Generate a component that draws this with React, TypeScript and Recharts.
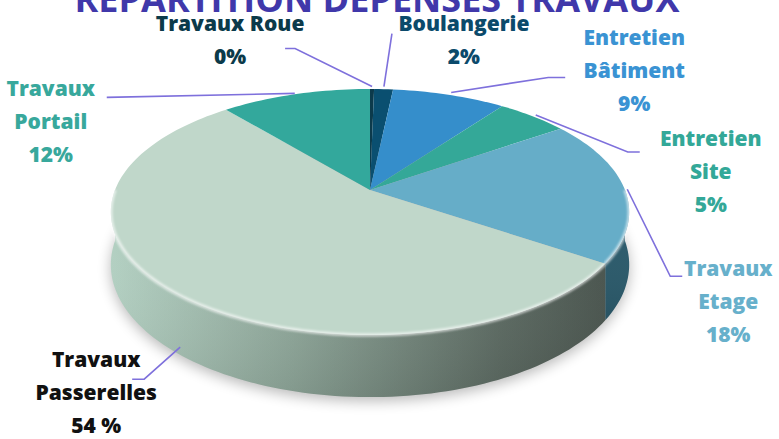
import React from 'react';
import { PieChart, Pie, Cell } from 'recharts';

// ---- data ----
const categories = [
  'Travaux Roue',
  'Boulangerie',
  'Entretien Bâtiment',
  'Entretien Site',
  'Travaux Etage',
  'Travaux Passerelles',
  'Travaux Portail',
];
const values = [0.3, 1.4, 8.4, 5.3, 19.0, 54.5, 11.1];
const labelNames = [
  ['Travaux Roue'],
  ['Boulangerie'],
  ['Entretien', 'Bâtiment'],
  ['Entretien', 'Site'],
  ['Travaux', 'Etage'],
  ['Travaux', 'Passerelles'],
  ['Travaux', 'Portail'],
];
const percentLabels = ['0%', '2%', '9%', '5%', '18%', '54 %', '12%'];
const title = 'RÉPARTITION DÉPENSES TRAVAUX';

// ---- styles ----
const TOP_COLORS = ['#0c3a4b', '#0a4f70', '#358ecb', '#34a898', '#66adc8', '#c0d7ca', '#33a89c'];
const SIDE_COLORS = ['#082a36', '#083a52', '#236a98', '#227a6e', '#2b5a6b', 'url(#passSide)', '#227a6e'];
const LABEL_COLORS = ['#0b3a4a', '#0b4a6b', '#3a93d3', '#33a898', '#67b0cb', '#111111', '#38a89c'];
const LEADER_COLOR = '#7e70dc';
const FONT = '"Open Sans", "Noto Sans", sans-serif';

// perspective projection of the 3D pie
const RX = 255;
const PERSP = 0.1789;
const KY = -119.07;
const DEPTH = 51;

function project(cx: number, cy: number, r: number, deg: number) {
  const t = (deg * Math.PI) / 180;
  const X = r * Math.cos(t);
  const Z = r * Math.sin(t);
  const d = 1 + PERSP * Z;
  return { x: cx + (RX * X) / d, y: cy + (KY * Z) / d, h: DEPTH / d };
}

// label layout: leader elbow offset from start, stub length, text offset from stub end
const LABEL_LAYOUT = [
  { r: 1.03, front: false, elbow: [-77, -38], stub: -10, text: [-55, -24] },
  { r: 1.03, front: false, elbow: [8, -53], stub: 0, text: [72, -10] },
  { r: 1.03, front: false, elbow: [97, -15], stub: 17, text: [69, -39] },
  { r: 1.02, front: false, elbow: [92, 37], stub: 12, text: [71, -13] },
  { r: 1.01, front: false, elbow: [43, 87], stub: 12, text: [46, -7] },
  { r: 0.97, front: true, elbow: [-36, 32], stub: -12, text: [-36, -19] },
  { r: 1.01, front: false, elbow: [-188, 4], stub: 0, text: [-56, -8] },
];

const data = categories.map((name, i) => ({ name, value: values[i] }));

function indexOf(props: any) {
  if (typeof props.index === 'number') return props.index;
  const n = props?.payload?.name ?? props.name;
  return Math.max(0, categories.indexOf(n));
}

const SliceShape = (props: any) => {
  const { cx, cy, startAngle, endAngle, fill } = props;
  const idx = indexOf(props);
  const a0 = Math.min(startAngle, endAngle);
  const a1 = Math.max(startAngle, endAngle);
  const steps = Math.max(2, Math.ceil((a1 - a0) / 1.5));
  const pts: string[] = [];
  for (let i = 0; i <= steps; i++) {
    const p = project(cx, cy, 1, a0 + ((a1 - a0) * i) / steps);
    pts.push(`${p.x.toFixed(2)},${p.y.toFixed(2)}`);
  }
  const topPath = `M${cx},${cy} L${pts.join(' L')} Z`;

  let side: React.ReactNode = null;
  let rim: React.ReactNode = null;
  const v0 = Math.max(a0, -180);
  const v1 = Math.min(a1, 0);
  if (v1 > v0) {
    const n = Math.max(2, Math.ceil((v1 - v0) / 1.5));
    const topArc: { x: number; y: number; h: number }[] = [];
    for (let i = 0; i <= n; i++) topArc.push(project(cx, cy, 1, v0 + ((v1 - v0) * i) / n));
    const up = topArc.map((p) => `${p.x.toFixed(2)},${p.y.toFixed(2)}`);
    const down = topArc
      .slice()
      .reverse()
      .map((p) => `${p.x.toFixed(2)},${(p.y + p.h).toFixed(2)}`);
    const sideD = `M${up.join(' L')} L${down.join(' L')} Z`;
    side = (
      <g>
        <path d={sideD} fill={SIDE_COLORS[idx]} />
        <path d={sideD} fill="url(#sideShade)" />
      </g>
    );
    rim = (
      <path
        d={`M${up.join(' L')}`}
        fill="none"
        stroke="#ffffff"
        strokeOpacity={0.6}
        strokeWidth={3.5}
        filter="url(#soft)"
      />
    );
  }

  let shadow: React.ReactNode = null;
  if (a1 >= 89.99) {
    const n = 120;
    const sp: string[] = [];
    for (let i = 0; i <= n; i++) {
      const p = project(cx, cy, 1, -180 + (360 * i) / n);
      sp.push(`${p.x.toFixed(2)},${(p.y + p.h + 4).toFixed(2)}`);
    }
    shadow = <path d={`M${sp.join(' L')} Z`} fill="#000" opacity={0.28} filter="url(#blurShadow)" />;
  }

  return (
    <g>
      {shadow}
      {side}
      <path d={topPath} fill={fill} />
      {rim}
    </g>
  );
};

const renderLabel = (props: any) => {
  const { cx, cy, midAngle } = props;
  const idx = indexOf(props);
  const L = LABEL_LAYOUT[idx];
  const p = project(cx, cy, L.r, midAngle);
  const sx = p.x;
  const sy = L.front ? p.y + p.h : p.y;
  const ex = sx + L.elbow[0];
  const ey = sy + L.elbow[1];
  const fx = ex + L.stub;
  const tx = fx + L.text[0];
  const ty = ey + L.text[1];
  const lines = [...labelNames[idx], percentLabels[idx]];
  return (
    <g key={`lbl-${idx}`}>
      <polyline
        points={`${sx},${sy} ${ex},${ey} ${fx},${ey}`}
        fill="none"
        stroke={LEADER_COLOR}
        strokeWidth={1.6}
      />
      {lines.map((t, i) => (
        <text
          key={i}
          x={tx}
          y={ty + i * 33 + 7}
          textAnchor="middle"
          fill={LABEL_COLORS[idx]}
          style={{ fontFamily: FONT, fontWeight: 800, fontSize: 21 }}
        >
          {t}
        </text>
      ))}
    </g>
  );
};

export default function App() {
  return (
    <div style={{ position: 'absolute', left: 0, top: 0, width: 779, height: 439, overflow: 'hidden', background: '#fff' }}>
      <PieChart width={779} height={439} margin={{ top: 0, right: 0, bottom: 0, left: 0 }}>
        <defs>
          <linearGradient id="passSide" gradientUnits="userSpaceOnUse" x1={110} y1={0} x2={630} y2={0}>
            <stop offset="0%" stopColor="#b3d0c2" />
            <stop offset="35%" stopColor="#8ea699" />
            <stop offset="75%" stopColor="#5c6a62" />
            <stop offset="100%" stopColor="#46504a" />
          </linearGradient>
          <linearGradient id="sideShade" x1="0" y1="0" x2="0" y2="1">
            <stop offset="0%" stopColor="#ffffff" stopOpacity={0.25} />
            <stop offset="25%" stopColor="#ffffff" stopOpacity={0} />
            <stop offset="100%" stopColor="#000000" stopOpacity={0.08} />
          </linearGradient>
          <filter id="blurShadow" x="-20%" y="-20%" width="140%" height="140%">
            <feGaussianBlur stdDeviation="7" />
          </filter>
          <filter id="soft" x="-5%" y="-5%" width="110%" height="110%">
            <feGaussianBlur stdDeviation="1.2" />
          </filter>
        </defs>
        <Pie
          data={data}
          dataKey="value"
          nameKey="name"
          cx={370}
          cy={190}
          outerRadius={120}
          startAngle={90}
          endAngle={-270}
          stroke="none"
          isAnimationActive={false}
          shape={SliceShape}
          activeShape={SliceShape}
          inactiveShape={SliceShape}
          label={renderLabel}
          labelLine={false}
        >
          {data.map((d, i) => (
            <Cell key={d.name} fill={TOP_COLORS[i]} />
          ))}
        </Pie>
      </PieChart>
      <svg width={779} height={439} style={{ position: 'absolute', left: 0, top: 0, pointerEvents: 'none' }}>
        <text
          x={377}
          y={12}
          textAnchor="middle"
          fill="#4038aa"
          style={{ fontFamily: '"Open Sans", sans-serif', fontWeight: 700, fontSize: 36 }}
        >
          {title}
        </text>
      </svg>
    </div>
  );
}
